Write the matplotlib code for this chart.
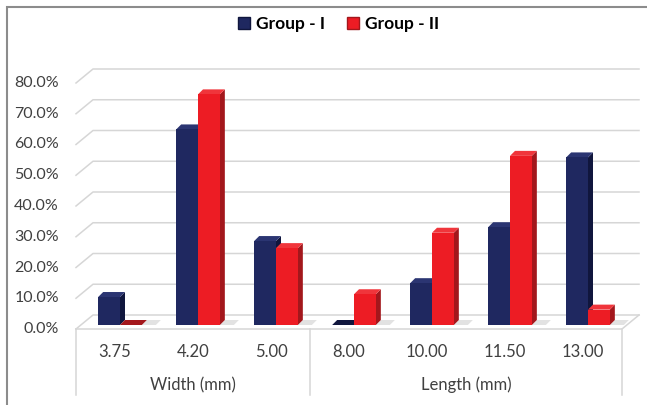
import matplotlib.pyplot as plt
from matplotlib.patches import Polygon, Rectangle
from matplotlib.lines import Line2D
from matplotlib.transforms import IdentityTransform, ScaledTranslation

# Datos
categorias = ["3.75", "4.20", "5.00", "8.00", "10.00", "11.50", "13.00"]
grupos = ["Width (mm)", "Length (mm)"]
tamaño_grupos = [3, 4]
grupo_1 = [0.091, 0.636, 0.273, 0.0, 0.136, 0.318, 0.545]
grupo_2 = [0.0, 0.75, 0.25, 0.10, 0.30, 0.55, 0.05]
series = ["Group - I", "Group - II"]

# Colores (cara frontal, lateral, superior)
colores = {
    "Group - I": ("#1f2860", "#10163d", "#2b3572"),
    "Group - II": ("#ed1c24", "#a3171c", "#f0353b"),
}
gris = "#d6d6d6"
texto = "#404040"

plt.rcParams["font.family"] = ["Lato", "DejaVu Sans"]

fig = plt.figure(figsize=(6.47, 4.05), dpi=100)
W, H = 647, 405
ax = fig.add_axes([76 / W, 1 - 329 / H, 546 / W, 246 / H])
ax.set_zorder(2)
ax.set_xlim(-0.5, len(categorias) - 0.5)
ax.set_ylim(0, 0.8)

dx, dy = 17, 14      # profundidad del suelo (px)
bdx, bdy = 5, 4      # posición de las barras dentro del suelo
prof = 5             # profundidad de cada barra
ancho = 0.28

def px(x, y):
    return ax.transData.transform((x, y))

def poligono(puntos, color, z, **kw):
    p = Polygon(puntos, closed=True, facecolor=color, edgecolor="none",
                transform=IdentityTransform(), zorder=z, clip_on=False, **kw)
    fig.add_artist(p)

# Rejilla: pared del fondo y pared lateral
x0, x1 = -0.5, len(categorias) - 0.5
for v in [0.0, 0.1, 0.2, 0.3, 0.4, 0.5, 0.6, 0.7, 0.8]:
    a = px(x0, v)
    b = px(x1, v)
    fig.add_artist(Line2D([a[0], a[0] + dx, b[0] + dx], [a[1], a[1] + dy, b[1] + dy],
                          color=gris, lw=1.1, transform=IdentityTransform(), zorder=1))
    ax.text(-0.5, v, f"{v * 100:.1f}%", ha="right", va="center", fontsize=11.5,
            color=texto, transform=ax.transData + ScaledTranslation(-17 / 100, 0, fig.dpi_scale_trans))

# Bordes del suelo
a, b = px(x0, 0), px(x1, 0)
fig.add_artist(Line2D([a[0], b[0], b[0] + dx], [a[1], b[1], b[1] + dy],
                      color=gris, lw=1.1, transform=IdentityTransform(), zorder=1))

# Barras en 3D simuladas
desplazamiento = ScaledTranslation(bdx / 100, bdy / 100, fig.dpi_scale_trans)
for k, (nombre, valores) in enumerate(zip(series, [grupo_1, grupo_2])):
    frente, lado, arriba = colores[nombre]
    posiciones = [i + (k - 0.5) * ancho for i in range(len(categorias))]
    # sombra en el suelo
    if k == 1:
        for i, xp in enumerate(posiciones):
            p0 = px(xp + ancho / 2, 0) + (bdx, bdy)
            poligono([p0, p0 + (14, 0), p0 + (14 + prof, prof), p0 + (prof, prof)],
                     "#bfbfbf", 1.2, alpha=0.45)
    ax.bar(posiciones, valores, ancho, color=frente, zorder=4,
           transform=ax.transData + desplazamiento, clip_on=False)
    for xp, v in zip(posiciones, valores):
        izq_arr = px(xp - ancho / 2, v) + (bdx, bdy)
        der_arr = px(xp + ancho / 2, v) + (bdx, bdy)
        der_abj = px(xp + ancho / 2, 0) + (bdx, bdy)
        poligono([der_abj, der_arr, der_arr + (prof, prof), der_abj + (prof, prof)], lado, 1.5)
        # una barra de altura cero se ve como una lámina oscura
        tapa = lado if v == 0 else arriba
        poligono([izq_arr, der_arr, der_arr + (prof, prof), izq_arr + (prof, prof)], tapa, 1.6)

# Eje de categorías con grupos
for s in ax.spines.values():
    s.set_visible(False)
ax.set_yticks([])
ax.set_xticks(range(len(categorias)))
ax.set_xticklabels(categorias, fontsize=12, color=texto)
ax.tick_params(axis="x", length=0, pad=11)
ax.patch.set_alpha(0)

trans = ax.get_xaxis_transform()
inicio = -0.5
separadores = [inicio]
for nombre, n in zip(grupos, tamaño_grupos):
    ax.text(inicio + n / 2, -56 / 246, nombre, ha="center", va="center",
            fontsize=12, color=texto, transform=trans)
    inicio += n
    separadores.append(inicio)
for s in separadores:
    ax.plot([s, s], [0, -66 / 246], color=gris, lw=1.1, transform=trans, clip_on=False)

# Leyenda
manejadores = [Line2D([], [], marker="s", ls="none", markersize=8.5,
                      markerfacecolor=colores[n][0], markeredgecolor=colores[n][1])
               for n in series]
fig.legend(manejadores, series, loc="center", bbox_to_anchor=(338 / W, 1 - 24 / H),
           ncol=2, frameon=False, handlelength=0.8, handletextpad=0.3,
           columnspacing=1.2, prop={"weight": "bold", "size": 12.5})

# Marco del gráfico
fig.add_artist(Rectangle((7 / W, -0.1), 1.2, 1.1 - 7 / H, transform=fig.transFigure,
                         fill=False, edgecolor="#8c8c8c", lw=1.5))

fig.savefig("out.png", dpi=100)
